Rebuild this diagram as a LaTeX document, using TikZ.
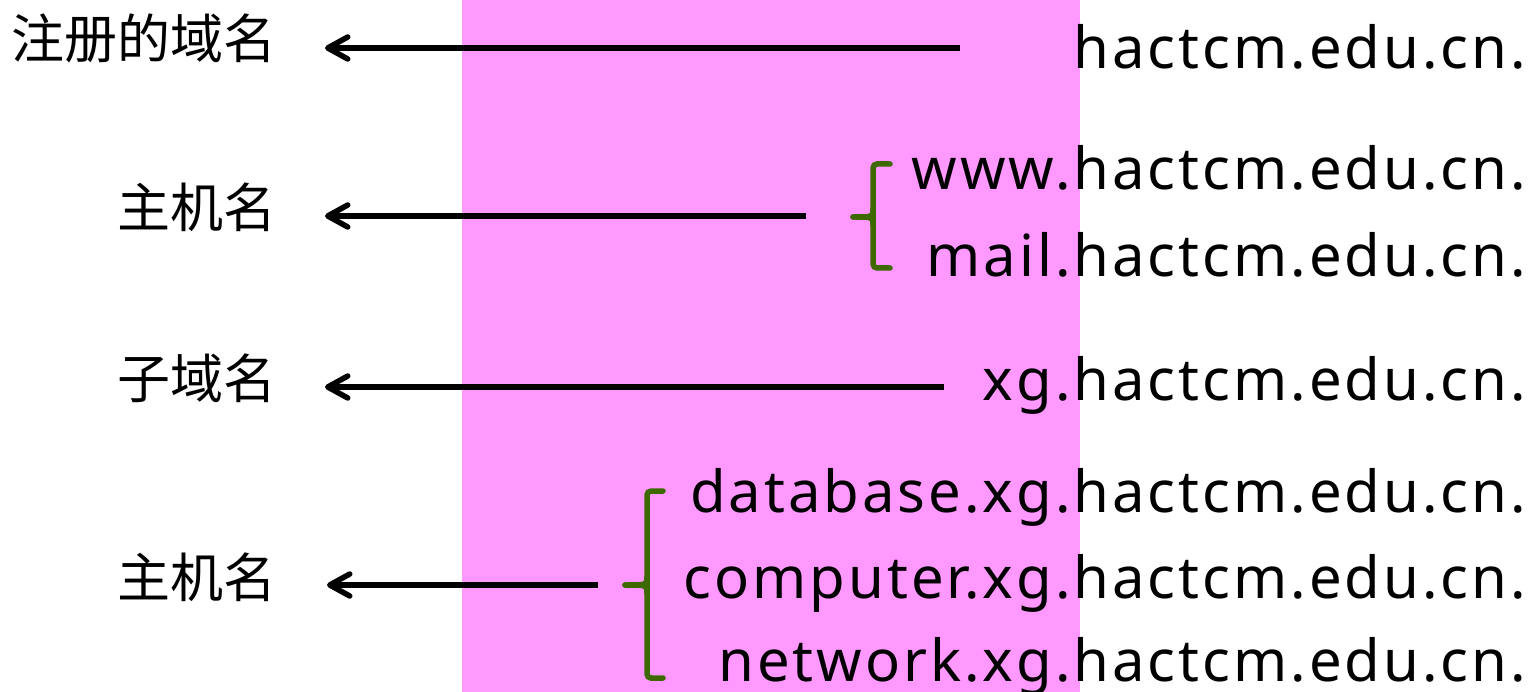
\documentclass[tikz,border=0pt]{standalone}
\usepackage{fontspec}
\setmainfont{Noto Sans}
\newfontfamily\cjkfont{Noto Sans CJK SC}
\newfontfamily\latfont[LetterSpace=5.1]{Noto Sans}
\usetikzlibrary{arrows.meta}
\definecolor{pinkbg}{RGB}{255,153,255}
\definecolor{bracegreen}{RGB}{62,104,0}
\tikzset{
  dom/.style={inner sep=0pt, anchor=base east, font=\latfont\fontsize{58}{64}\selectfont},
  lab/.style={inner sep=0pt, anchor=east, font=\cjkfont\fontsize{53}{60}\selectfont},
  arr/.style={line width=5.5pt, shorten >=53pt, -{Straight Barb[length=20pt,width=22pt,line cap=round,line join=round]}},
  bracepath/.style={draw=bracegreen, line width=5.5pt, rounded corners=4pt, line cap=round},
  tippath/.style={draw=bracegreen, line width=5.5pt, line cap=round}
}
\begin{document}
\begin{tikzpicture}[x=1pt,y=-1pt]
\useasboundingbox (0,0) rectangle (1529,692);
\fill[pinkbg] (462,0) rectangle (1080,692);

% domain names
\node[dom] (d1) at (1526,69) {hactcm.edu.cn.};
\node[dom] (d2) at (1526,190) {www.hactcm.edu.cn.};
\node[dom] (d3) at (1526,277) {mail.hactcm.edu.cn.};
\node[dom] (d4) at (1526,401) {xg.hactcm.edu.cn.};
\node[dom] (d5) at (1526,512) {database.xg.hactcm.edu.cn.};
\node[dom] (d6) at (1526,598) {computer.xg.hactcm.edu.cn.};
\node[dom] (d7) at (1526,681) {network.xg.hactcm.edu.cn.};

% labels
\node[lab] (l1) at (277,38) {注册的域名};
\node[lab] (l2) at (277,207) {主机名};
\node[lab] (l3) at (277,378) {子域名};
\node[lab] (l4) at (277,577) {主机名};

% arrows
\coordinate (s1) at (960,48);
\coordinate (s2) at (806,216);
\coordinate (s3) at (944,387);
\coordinate (s4) at (598,585);
\draw[arr, shorten >=48pt] (s1) -- (l1.east |- s1);
\draw[arr, shorten >=48pt] (s2) -- (l2.east |- s2);
\draw[arr, shorten >=48pt] (s3) -- (l3.east |- s3);
\draw[arr, shorten >=50pt] (s4) -- (l4.east |- s4);

% braces
\draw[bracepath] (890,164) -- (873,164) -- (873,268) -- (890,268);
\draw[tippath] (873,209) .. controls (873,217) .. (853,217);
\draw[tippath] (873,225) .. controls (873,217) .. (853,217);

\draw[bracepath] (663,491) -- (647,491) -- (647,678) -- (663,678);
\draw[tippath] (647,577) .. controls (647,585) .. (625,585);
\draw[tippath] (647,593) .. controls (647,585) .. (625,585);
\end{tikzpicture}
\end{document}
